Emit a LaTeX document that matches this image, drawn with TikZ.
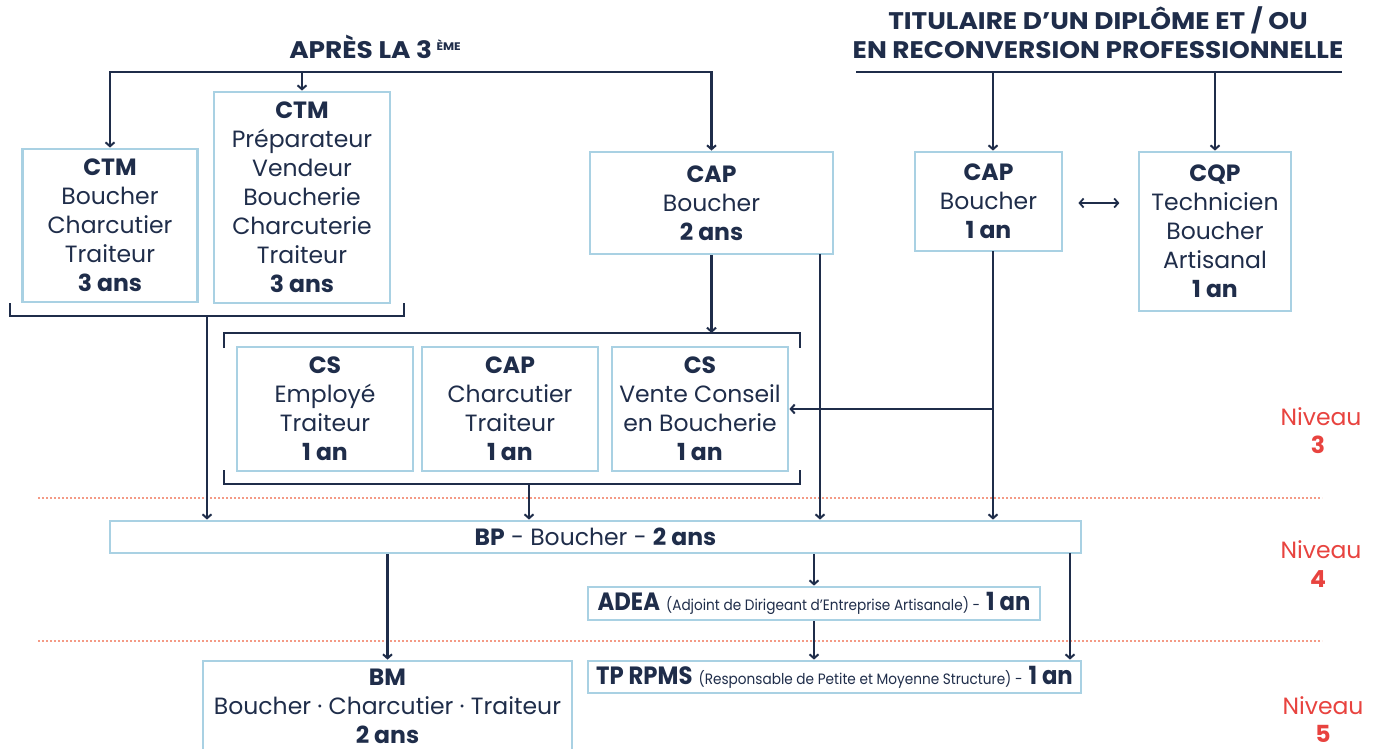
\documentclass[tikz,border=0pt]{standalone}
\usepackage{fontspec}
\usepackage{graphicx}
\setmainfont{Poppins}
\usetikzlibrary{arrows.meta}
\definecolor{navy}{HTML}{1F2D4A}
\definecolor{boxblue}{HTML}{A9D1E3}
\definecolor{nivred}{HTML}{E8433F}
\definecolor{dotc}{HTML}{F49A85}
\newcommand{\bodyfont}{\fontsize{23.5}{29}\selectfont}
\newcommand{\titlefont}{\fontsize{24}{29}\selectfont\bfseries}
\newcommand{\smallfont}{\fontsize{15}{15}\selectfont\mdseries}
\tikzset{
  ln/.style={navy, line width=2.8pt, line cap=rect},
  arr/.style={navy, line width=2.8pt, -{Straight Barb[length=4pt,width=9pt,line width=2pt]}},
  dbl/.style={navy, line width=2pt, {Straight Barb[length=4pt,width=9pt,line width=1.8pt]}-{Straight Barb[length=4pt,width=9pt,line width=1.8pt]}},
  box/.style={draw=boxblue, line width=2.8pt, align=center, inner sep=0pt, text=navy, font=\bodyfont},
  ttl/.style={text=navy, font=\titlefont, inner sep=0pt, anchor=base},
  niv/.style={text=nivred, font=\bodyfont, inner sep=0pt, anchor=base},
  dotline/.style={dotc, line width=2pt, dash pattern=on 1.6pt off 2.4pt}
}
\begin{document}
\begin{tikzpicture}[x=1pt,y=-1pt]
\useasboundingbox[fill=white] (0,0) rectangle (1378,749);

% titles
\node[ttl] (apres) at (375,59) {\scalebox{1.1}[1]{APRÈS LA 3\,\raisebox{8pt}{\fontsize{11}{11}\selectfont ÈME}}};
\node[ttl] (tit1) at (1098,30) {\scalebox{1.1}[1]{TITULAIRE D’UN DIPLÔME ET / OU}};
\node[ttl] (tit2) at (1098,59) {\scalebox{1.1}[1]{EN RECONVERSION PROFESSIONNELLE}};

% boxes
\node[box, minimum width=175, minimum height=153] (ctm1) at (110,225.5)
  {\textbf{CTM}\\Boucher\\Charcutier\\Traiteur\\\textbf{3 ans}};
\node[box, minimum width=176, minimum height=211] (ctm2) at (302,197.5)
  {\textbf{CTM}\\Préparateur\\Vendeur\\Boucherie\\Charcuterie\\Traiteur\\\textbf{3 ans}};
\node[box, minimum width=243, minimum height=102] (cap2) at (711.5,203)
  {\textbf{CAP}\\Boucher\\\textbf{2 ans}};
\node[box, minimum width=147, minimum height=99] (cap1) at (988.5,201.5)
  {\textbf{CAP}\\Boucher\\\textbf{1 an}};
\node[box, minimum width=152, minimum height=159] (cqp) at (1215,231.5)
  {\textbf{CQP}\\Technicien\\Boucher\\Artisanal\\\textbf{1 an}};
\node[box, minimum width=176, minimum height=124] (cs1) at (325,409)
  {\textbf{CS}\\Employé\\Traiteur\\\textbf{1 an}};
\node[box, minimum width=176, minimum height=124] (capc) at (510,409)
  {\textbf{CAP}\\Charcutier\\Traiteur\\\textbf{1 an}};
\node[box, minimum width=176, minimum height=124] (cs2) at (700,409)
  {\textbf{CS}\\Vente Conseil\\en Boucherie\\\textbf{1 an}};
\node[box, minimum width=971, minimum height=32] (bp) at (595.5,537)
  {\textbf{BP} - Boucher - \textbf{2 ans}};
\node[box, minimum width=452, minimum height=33] (adea) at (814,603.5)
  {\scalebox{0.91}[1]{\fontsize{25}{25}\selectfont\textbf{ADEA} {\smallfont (Adjoint de Dirigeant d'Entreprise Artisanale) -} \textbf{1 an}}};
\node[box, minimum width=493, minimum height=32] (tp) at (834.5,677)
  {\scalebox{0.91}[1]{\fontsize{25}{25}\selectfont\textbf{TP RPMS} {\smallfont (Responsable de Petite et Moyenne Structure) -} \textbf{1 an}}};
\node[box, minimum width=369, minimum height=90] (bm) at (387.5,706)
  {\textbf{BM}\\Boucher · Charcutier · Traiteur\\\textbf{2 ans}};

% niveaux
\node[niv] (n3) at (1321,425) {Niveau};
\node[niv] (n3b) at (1318,453) {\textbf{3}};
\node[niv] (n4) at (1321,558) {Niveau};
\node[niv] (n4b) at (1318,587) {\textbf{4}};
\node[niv] (n5) at (1323,714) {Niveau};
\node[niv] (n5b) at (1323,742) {\textbf{5}};

% dotted separators
\coordinate (d1a) at (38,498); \coordinate (d1b) at (1322,498);
\coordinate (d2a) at (38,641); \coordinate (d2b) at (1322,641);
\draw[dotline] (d1a) -- (d1b);
\draw[dotline] (d2a) -- (d2b);

% top-left distribution
\coordinate (a1) at (110,72);
\coordinate (a2) at (302,72);
\coordinate (a3) at (711.5,72);
\draw[ln] (a1) -- (a3);
\draw[arr] (a1) -- (ctm1.north);
\draw[arr] (a2) -- (ctm2.north);
\draw[arr] (a3) -- (cap2.north);

% right header line
\coordinate (r1) at (856,72); \coordinate (r2) at (1342,72);
\coordinate (r3) at (993,72); \coordinate (r4) at (1215,72);
\draw[navy, line width=2.8pt] (r1) -- (r2);
\draw[arr] (r3) -- (r3 |- cap1.north);
\draw[arr] (r4) -- (cqp.north);
\draw[dbl] ([xshift=15pt,yshift=-1.5pt]cap1.east) -- ++(41,0);

% bracket under CTM boxes
\coordinate (k1) at (10,303); \coordinate (k2) at (10,316);
\coordinate (k3) at (404,316); \coordinate (k4) at (404,303);
\coordinate (k5) at (207,316);
\draw[navy, line width=2.8pt] (k1) -- (k2) -- (k3) -- (k4);
\draw[arr] (k5) -- (k5 |- bp.north);

% middle bracket
\coordinate (m1) at (224,348); \coordinate (m2) at (224,333);
\coordinate (m3) at (800,333); \coordinate (m4) at (800,348);
\coordinate (m5) at (224,470); \coordinate (m6) at (224,484);
\coordinate (m7) at (800,484); \coordinate (m8) at (800,470);
\coordinate (m9) at (529,484);
\draw[navy, line width=2.8pt] (m1) -- (m2) -- (m3) -- (m4);
\draw[navy, line width=2.8pt] (m5) -- (m6) -- (m7) -- (m8);
\draw[arr] (cap2.south) -- (cap2.south |- m2);
\draw[arr] (m9) -- (m9 |- bp.north);

% long verticals to BP
\coordinate (c2r) at (820,254);
\draw[arr] (c2r) -- (c2r |- bp.north);
\coordinate (c1s) at (993,251);
\draw[arr] (c1s) -- (c1s |- bp.north);
\coordinate (c1h) at (993,409);
\draw[arr] (c1h) -- (cs2.east);

% from BP
\draw[arr] (bm.north |- bp.south) -- (bm.north);
\draw[arr] (adea.north |- bp.south) -- (adea.north);
\draw[arr] (adea.south) -- (adea.south |- tp.north);
\coordinate (bpr) at (1070,553);
\draw[arr] (bpr) -- (bpr |- tp.north);
\end{tikzpicture}
\end{document}
